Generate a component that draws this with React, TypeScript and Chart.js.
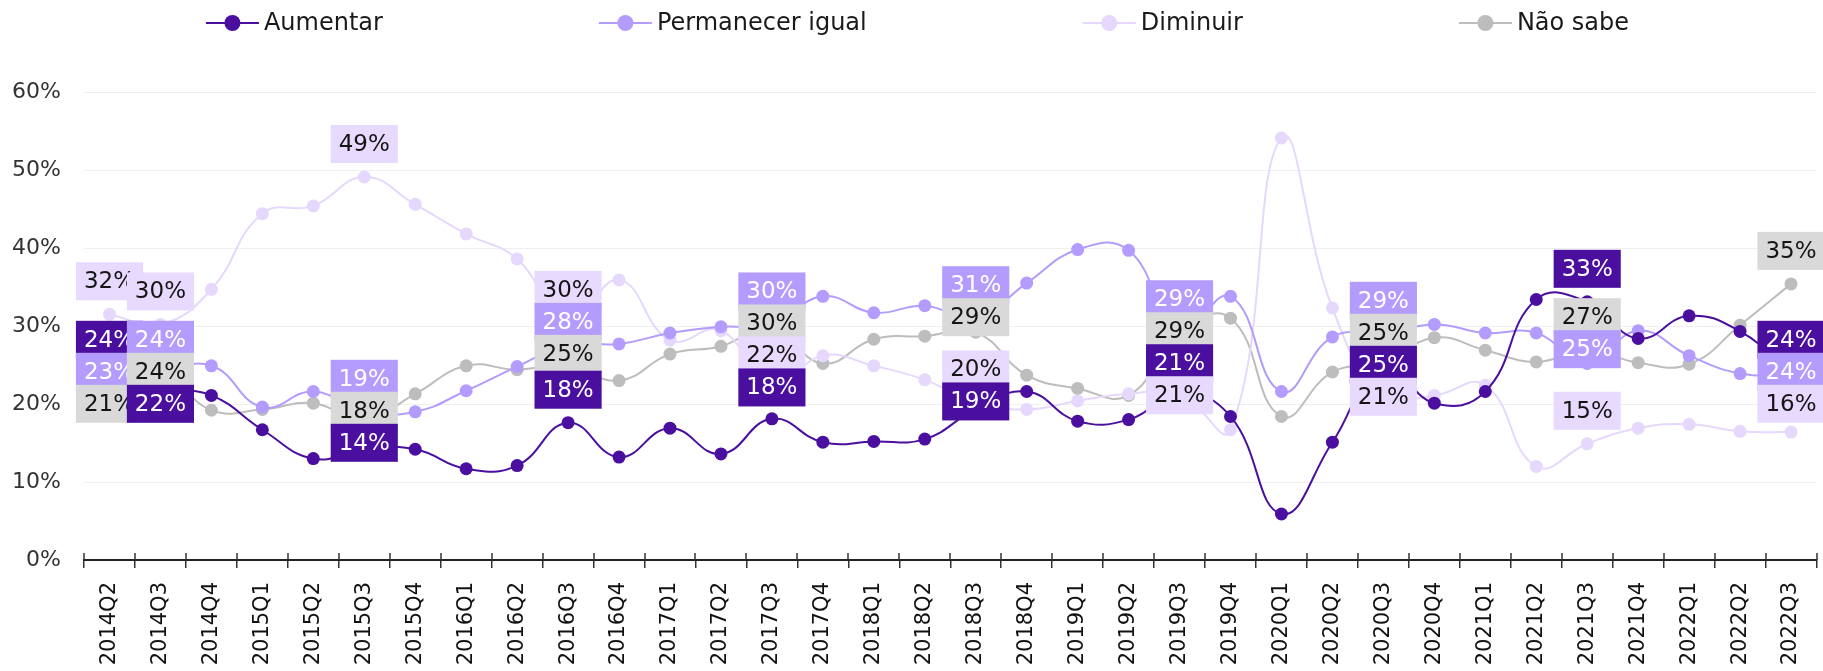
import React, { useEffect, useRef } from "react";
import { Chart, registerables } from "chart.js";

Chart.register(...registerables);

const categories = [
  "2014Q2", "2014Q3", "2014Q4", "2015Q1", "2015Q2", "2015Q3", "2015Q4", "2016Q1", "2016Q2", "2016Q3",
  "2016Q4", "2017Q1", "2017Q2", "2017Q3", "2017Q4", "2018Q1", "2018Q2", "2018Q3", "2018Q4", "2019Q1",
  "2019Q2", "2019Q3", "2019Q4", "2020Q1", "2020Q2", "2020Q3", "2020Q4", "2021Q1", "2021Q2", "2021Q3",
  "2021Q4", "2022Q1", "2022Q2", "2022Q3",
];

const aumentar = [
  24, 22, 21.1, 16.7, 13.0, 14.2, 14.2, 11.7, 12.1, 17.6,
  13.2, 16.9, 13.6, 18.1, 15.1, 15.2, 15.5, 19.3, 21.6, 17.8,
  18.0, 21.4, 18.4, 5.9, 15.1, 25, 20.1, 21.6, 33.4, 33.1,
  28.4, 31.3, 29.3, 24,
];

const permanecerIgual = [
  23, 24, 24.9, 19.6, 21.6, 19, 19.0, 21.7, 24.8, 27.6,
  27.7, 29.1, 29.9, 30.2, 33.8, 31.7, 32.6, 31, 35.5, 39.8,
  39.7, 29.2, 33.8, 21.6, 28.6, 29, 30.2, 29.1, 29.1, 25.2,
  29.4, 26.2, 23.9, 23.6,
];

const diminuir = [
  31.5, 30.2, 34.7, 44.4, 45.4, 49.1, 45.6, 41.8, 38.6, 30.4,
  35.9, 28.2, 29.4, 22.3, 26.2, 24.9, 23.1, 20.2, 19.3, 20.4,
  21.3, 21.3, 16.7, 54.1, 32.3, 21.2, 21.1, 22.4, 12.0, 14.9,
  16.9, 17.4, 16.5, 16.4,
];

const naoSabe = [
  21, 24, 19.2, 19.3, 20.1, 18, 21.3, 24.9, 24.4, 25,
  23.0, 26.4, 27.4, 29.8, 25.2, 28.3, 28.7, 29.2, 23.7, 22.0,
  21.1, 29.2, 31.0, 18.4, 24.1, 25.3, 28.5, 26.9, 25.4, 26.9,
  25.3, 25.1, 30.1, 35.4,
];

// categories that carry value labels
const labelIndices = [0, 1, 5, 9, 13, 17, 21, 25, 29, 33];

const yMin = 0;
const yMax = 60;
const yStep = 10;

const FONT = '"DejaVu Sans", "Noto Sans", sans-serif';

const series = [
  { label: "Aumentar", data: aumentar, color: "#4A0F9E", boxBg: "#4A0F9E", boxText: "#FFFFFF" },
  { label: "Permanecer igual", data: permanecerIgual, color: "#B39CFD", boxBg: "#B39CFD", boxText: "#FFFFFF" },
  { label: "Diminuir", data: diminuir, color: "#E6D8FD", boxBg: "#E8DAFE", boxText: "#151515" },
  { label: "Não sabe", data: naoSabe, color: "#BDBDBD", boxBg: "#D9D9D9", boxText: "#151515" },
];

type Item = { di: number; x: number; pref: number; pos: number; value: number };

const boxLabelPlugin = {
  id: "boxLabels",
  afterDatasetsDraw(chart: any) {
    const ctx = chart.ctx as CanvasRenderingContext2D;
    const gap = 32;
    const lift = 33;
    const boxH = 38;
    const padX = 8;
    ctx.save();
    ctx.font = `23px ${FONT}`;
    ctx.textAlign = "center";
    ctx.textBaseline = "middle";
    for (const idx of labelIndices) {
      const items: Item[] = chart.data.datasets.map((ds: any, di: number) => {
        const pt = chart.getDatasetMeta(di).data[idx];
        return { di, x: pt.x, pref: pt.y - lift, pos: 0, value: ds.data[idx] };
      });
      items.sort((a, b) => a.pref - b.pref || a.di - b.di);
      items.forEach((it, k) => {
        it.pos = k === 0 ? it.pref : Math.max(it.pref, items[k - 1].pos + gap);
      });
      for (const it of items) {
        const s = series[it.di];
        const text = Math.round(it.value) + "%";
        const w = ctx.measureText(text).width + padX * 2;
        ctx.fillStyle = s.boxBg;
        ctx.fillRect(it.x - w / 2, it.pos - boxH / 2, w, boxH);
        ctx.fillStyle = s.boxText;
        ctx.fillText(text, it.x, it.pos + 1);
      }
    }
    ctx.restore();
  },
};

const legendPlugin = {
  id: "topLegend",
  afterDraw(chart: any) {
    const ctx = chart.ctx as CanvasRenderingContext2D;
    const markerW = 53;
    const textGap = 5;
    const itemGap = 216;
    const y = 23;
    ctx.save();
    ctx.font = `24px ${FONT}`;
    ctx.textBaseline = "middle";
    ctx.textAlign = "left";
    const widths = series.map((s) => markerW + textGap + ctx.measureText(s.label).width);
    const total = widths.reduce((a, b) => a + b, 0) + itemGap * (series.length - 1);
    let x = (chart.width - total) / 2 + 6;
    series.forEach((s, i) => {
      ctx.strokeStyle = s.color;
      ctx.lineWidth = 2;
      ctx.beginPath();
      ctx.moveTo(x, y);
      ctx.lineTo(x + markerW, y);
      ctx.stroke();
      ctx.fillStyle = s.color;
      ctx.beginPath();
      ctx.arc(x + markerW / 2, y, 8, 0, Math.PI * 2);
      ctx.fill();
      ctx.fillStyle = "#1a1a1a";
      ctx.fillText(s.label, x + markerW + textGap, y + 1);
      x += widths[i] + itemGap;
    });
    ctx.restore();
  },
};

const crossTickPlugin = {
  id: "crossTicks",
  afterDraw(chart: any) {
    const xs = chart.scales.x;
    const ctx = chart.ctx as CanvasRenderingContext2D;
    const n = categories.length;
    const half = (xs.getPixelForValue(1) - xs.getPixelForValue(0)) / 2;
    const y0 = chart.chartArea.bottom;
    ctx.save();
    ctx.strokeStyle = "#333";
    ctx.lineWidth = 1.5;
    for (let i = 0; i <= n; i++) {
      const px = Math.round(xs.getPixelForValue(0) - half + i * half * 2);
      ctx.beginPath();
      ctx.moveTo(px, y0 - 7);
      ctx.lineTo(px, y0);
      ctx.stroke();
    }
    ctx.restore();
  },
};

export default function App() {
  const ref = useRef<HTMLCanvasElement | null>(null);

  useEffect(() => {
    document.body.style.margin = "0";
    if (!ref.current) return;
    const chart = new Chart(ref.current, {
      type: "line",
      data: {
        labels: categories,
        datasets: series.map((s) => ({
          label: s.label,
          data: s.data,
          borderColor: s.color,
          backgroundColor: s.color,
          pointBackgroundColor: s.color,
          pointBorderWidth: 0,
          pointRadius: 6.5,
          borderWidth: 2,
          tension: 0.45,
          fill: false,
        })),
      },
      options: {
        animation: false,
        responsive: false,
        layout: { padding: { top: 92, left: 0, right: 0, bottom: 3 } },
        plugins: {
          legend: { display: false },
          tooltip: { enabled: false },
        },
        scales: {
          x: {
            offset: true,
            afterFit: (scale: any) => {
              scale.height = 108;
              scale.paddingLeft = 0;
              scale.paddingRight = 0;
            },
            grid: {
              display: true,
              offset: true,
              drawOnChartArea: false,
              drawTicks: true,
              tickLength: 8,
              color: "#333",
              lineWidth: 1.5,
            },
            border: { display: true, color: "#222", width: 2 },
            ticks: {
              autoSkip: false,
              maxRotation: 90,
              minRotation: 90,
              padding: 14,
              color: "#111",
              font: { family: FONT, size: 21 },
            },
          },
          y: {
            min: yMin,
            max: yMax,
            afterFit: (scale: any) => {
              scale.width = 84;
            },
            grid: { color: "#EFEFEF", drawTicks: false, lineWidth: 1 },
            border: { display: false },
            ticks: {
              stepSize: yStep,
              padding: 23,
              color: "#333",
              font: { family: FONT, size: 22 },
              callback: (v: any) => v + "%",
            },
          },
        },
      },
      plugins: [boxLabelPlugin, legendPlugin, crossTickPlugin],
    });
    return () => chart.destroy();
  }, []);

  return (
    <div style={{ width: 1823, height: 671 }}>
      <canvas ref={ref} width={1823} height={671} style={{ display: "block" }} />
    </div>
  );
}
